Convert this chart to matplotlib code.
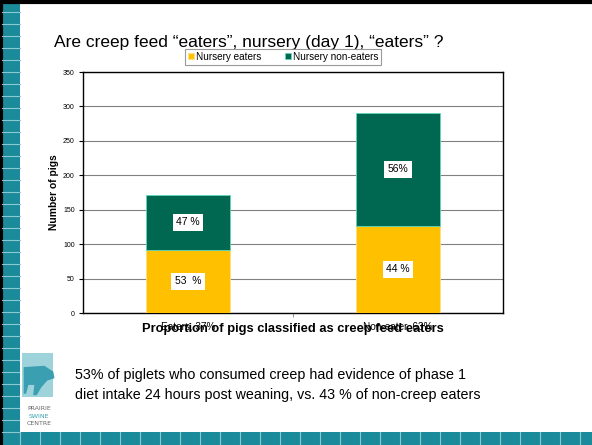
import matplotlib.pyplot as plt
from matplotlib.patches import Rectangle, FancyBboxPatch, Polygon

# Data
categories = ["Eaters, 37%", "Non-eater, 63%"]
nursery_eaters = [92, 127]
nursery_non_eaters = [80, 164]
eater_labels = ["53  %", "44 %"]
non_eater_labels = ["47 %", "56%"]

yellow = "#FFC000"
green = "#006850"
teal = "#1B8A9A"

fig = plt.figure(figsize=(5.92, 4.45), dpi=100)
fig.patch.set_facecolor("white")

# slide frame: black edge top/left, teal strips on left and bottom
fig.add_artist(plt.Line2D([0, 1], [0.996, 0.996], transform=fig.transFigure,
                          color="black", lw=3, zorder=2))
fig.add_artist(plt.Line2D([0.002, 0.002], [0, 1], transform=fig.transFigure,
                          color="black", lw=3, zorder=2))
fig.patches.append(Rectangle((0.004, 0), 0.03, 0.99, transform=fig.transFigure,
                             facecolor=teal, edgecolor="none", zorder=1))
fig.patches.append(Rectangle((0.004, 0), 0.996, 0.029, transform=fig.transFigure,
                             facecolor=teal, edgecolor="none", zorder=1))
for i in range(36):
    yy = 0.029 + i * 12 / 445
    fig.add_artist(plt.Line2D([0.004, 0.034], [yy, yy], transform=fig.transFigure,
                              color="#8CC8D2", lw=0.8, zorder=2))
for i in range(30):
    xx = 0.034 + i * 20 / 592
    fig.add_artist(plt.Line2D([xx, xx], [0, 0.029], transform=fig.transFigure,
                              color="#8CC8D2", lw=0.8, zorder=2))

# logo
fig.patches.append(FancyBboxPatch((0.034, 0.04), 0.078, 0.185, transform=fig.transFigure,
                                  boxstyle="round,pad=0.0,rounding_size=0.012",
                                  facecolor="white", edgecolor="none", zorder=3))
fig.patches.append(Rectangle((0.038, 0.108), 0.052, 0.099, transform=fig.transFigure,
                             facecolor="#9ED3DC", edgecolor="none", zorder=4))
pig = [(0.040, 0.175), (0.075, 0.178), (0.090, 0.165), (0.092, 0.150), (0.080, 0.145),
       (0.070, 0.130), (0.062, 0.112), (0.056, 0.112), (0.058, 0.135), (0.048, 0.135),
       (0.044, 0.115), (0.040, 0.115)]
fig.patches.append(Polygon(pig, closed=True, transform=fig.transFigure,
                           facecolor="#3A9FB0", edgecolor="none", zorder=4))
fig.text(0.066, 0.081, "PRAIRIE", ha="center", va="center", fontsize=4.5,
         color="#666666", zorder=5)
fig.text(0.066, 0.065, "SWINE", ha="center", va="center", fontsize=4.5,
         color="#3AA0B0", zorder=5)
fig.text(0.066, 0.049, "CENTRE", ha="center", va="center", fontsize=4.5,
         color="#666666", zorder=5)

# title
fig.text(0.092, 0.905, "Are creep feed \u201ceaters\u201d, nursery (day 1), \u201ceaters\u201d ?",
         fontsize=12.5, family="Liberation Sans", va="center")

ax = fig.add_axes([0.1402, 0.2966, 0.7095, 0.5416])
x = range(len(categories))
ax.bar(x, nursery_eaters, width=0.4, color=yellow, edgecolor="#FFE080", lw=0.6,
       label="Nursery eaters", zorder=3)
ax.bar(x, nursery_non_eaters, width=0.4, bottom=nursery_eaters, color=green,
       edgecolor="#5ED8B8", lw=0.6, label="Nursery non-eaters", zorder=3)

box = dict(facecolor="white", edgecolor="none", pad=2.5)
for i in x:
    ax.text(i, nursery_eaters[i] / 2, eater_labels[i], ha="center", va="center",
            fontsize=7.5, family="Liberation Sans", bbox=box, zorder=4)
    ax.text(i, nursery_eaters[i] + nursery_non_eaters[i] / 2, non_eater_labels[i],
            ha="center", va="center", fontsize=7.5, family="Liberation Sans",
            bbox=box, zorder=4)

ax.set_xlim(-0.5, 1.5)
ax.set_ylim(0, 350)
ax.set_yticks(range(0, 351, 50))
ax.yaxis.grid(True, color="#808080", lw=0.8, zorder=0)
ax.set_xticks(list(x))
ax.set_xticklabels(categories, fontsize=7.2, family="Liberation Sans")
ax.set_xticks([0.5], minor=True)
ax.tick_params(axis="x", which="major", length=0, pad=6)
ax.tick_params(axis="x", which="minor", length=3, color="#808080")
ax.tick_params(axis="y", labelsize=5, length=3, pad=3)
for lbl in ax.get_yticklabels():
    lbl.set_family("Liberation Sans")
for s in ax.spines.values():
    s.set_color("black")
    s.set_linewidth(1.0)
ax.set_ylabel("Number of pigs", fontsize=7.4, fontweight="bold", family="Liberation Sans",
              labelpad=3)
ax.set_xlabel("Proportion of pigs classified as creep feed eaters", fontsize=9.3,
              fontweight="bold", family="Liberation Sans", labelpad=-6)

leg = fig.legend(loc="center", bbox_to_anchor=(0.478, 0.873), ncol=2,
                 frameon=True, fancybox=False, edgecolor="#808080", handlelength=0.6,
                 handleheight=0.6, handletextpad=0.2, columnspacing=2.4,
                 borderpad=0.3, prop={"family": "Liberation Sans", "size": 7.2})
leg.get_frame().set_linewidth(0.8)

fig.text(0.127, 0.135, "53% of piglets who consumed creep had evidence of phase 1\n"
         "diet intake 24 hours post weaning, vs. 43 % of non-creep eaters",
         fontsize=10.3, family="Liberation Sans", va="center", linespacing=1.6)

fig.savefig("out.png", dpi=100)
